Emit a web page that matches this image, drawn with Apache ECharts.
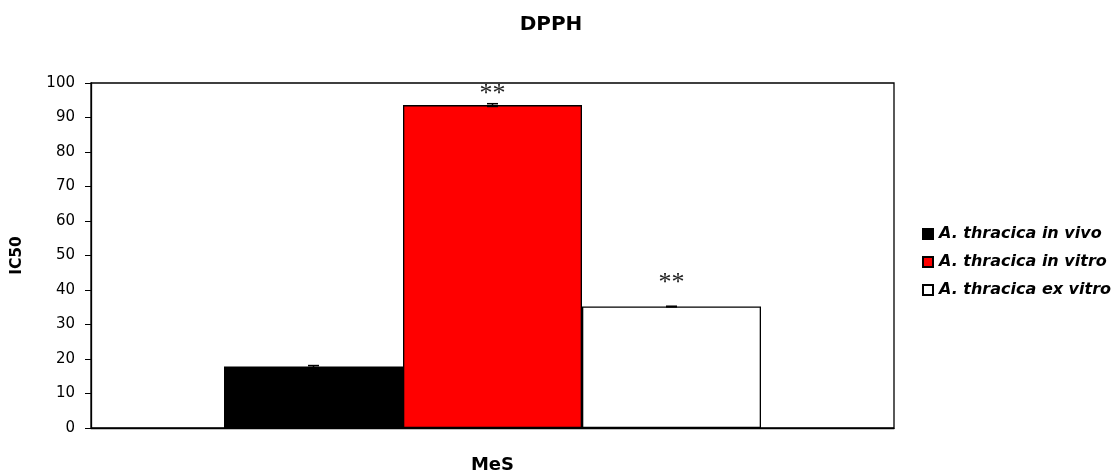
<!DOCTYPE html>
<html>
<head>
<meta charset="utf-8">
<script src="https://cdn.jsdelivr.net/npm/echarts@6/dist/echarts.min.js"></script>
<style>html,body{margin:0;padding:0;background:#fff}#c{width:1112px;height:474px}</style>
</head>
<body>
<div id="c"></div>
<script>
const categories = ['MeS'];
const seriesNames = ['A. thracica in vivo', 'A. thracica in vitro', 'A. thracica ex vitro'];
const seriesValues = [17.8, 93.6, 35.2];
const seriesErrors = [0.3, 0.4, 0.1];
const seriesColors = ['#000000', '#ff0000', '#ffffff'];
const significance = ['', '**', '**'];
const starDistance = [0, -2, 10];
const yTicks = { min: 0, max: 100, interval: 10 };

const BAR_W = 179;
const chart = echarts.init(document.getElementById('c'), null, { renderer: 'canvas' });
const TXT = 'DejaVu Sans';

const barSeries = seriesNames.map((name, i) => ({
  name: name,
  type: 'bar',
  barWidth: BAR_W,
  barGap: '0%',
  itemStyle: { color: seriesColors[i], borderColor: '#000', borderWidth: 1.3 },
  data: categories.map(() => ({
    value: seriesValues[i],
    label: {
      show: !!significance[i],
      position: 'top',
      distance: starDistance[i],
      formatter: significance[i],
      fontFamily: 'Liberation Serif',
      fontSize: 26,
      color: '#222'
    }
  }))
}));

const errData = seriesValues.map((v, i) => [0, v, seriesErrors[i], i]);

const errSeries = {
  type: 'custom',
  name: 'err',
  z: 5,
  data: errData,
  renderItem: function (params, api) {
    const idx = api.value(3);
    const v = api.value(1), e = api.value(2);
    const off = (idx - (seriesNames.length - 1) / 2) * BAR_W;
    const top = api.coord([api.value(0), v + e]);
    const bot = api.coord([api.value(0), v - e]);
    const x = top[0] + off;
    const hw = 5.5;
    const st = { stroke: '#000', lineWidth: 1.5 };
    return {
      type: 'group',
      children: [
        { type: 'line', shape: { x1: x, y1: top[1], x2: x, y2: bot[1] }, style: st },
        { type: 'line', shape: { x1: x - hw, y1: top[1], x2: x + hw, y2: top[1] }, style: st },
        { type: 'line', shape: { x1: x - hw, y1: bot[1], x2: x + hw, y2: bot[1] }, style: st }
      ]
    };
  }
};

chart.setOption({
  animation: false,
  backgroundColor: '#fff',
  title: {
    text: 'DPPH',
    left: 546,
    textAlign: 'center',
    top: 10,
    textStyle: { fontFamily: TXT, fontWeight: 'bold', fontSize: 20, color: '#000' }
  },
  legend: {
    data: seriesNames,
    orient: 'vertical',
    left: 917,
    top: 221,
    itemWidth: 10,
    itemHeight: 10,
    itemGap: 12,
    icon: 'rect',
    textStyle: { fontFamily: TXT, fontWeight: 'bold', fontStyle: 'italic', fontSize: 16, color: '#000', padding: [0, 0, 0, 1] }
  },
  grid: {
    left: 91, right: 218, top: 83, bottom: 46,
    show: true, borderColor: '#000', borderWidth: 1.3, backgroundColor: 'transparent'
  },
  xAxis: {
    type: 'category',
    data: categories,
    axisLine: { lineStyle: { color: '#000', width: 1.3 } },
    axisTick: { show: false },
    axisLabel: { margin: 28, fontFamily: TXT, fontWeight: 'bold', fontSize: 18, color: '#000' }
  },
  yAxis: {
    type: 'value',
    min: yTicks.min, max: yTicks.max, interval: yTicks.interval,
    name: 'IC50',
    nameLocation: 'middle',
    nameGap: 66,
    nameRotate: 90,
    nameTextStyle: { fontFamily: TXT, fontWeight: 'bold', fontSize: 15.5, color: '#000' },
    axisLine: { show: true, lineStyle: { color: '#000', width: 1.3 } },
    axisTick: { show: true, inside: false, length: 6, lineStyle: { color: '#000' } },
    axisLabel: { margin: 16, fontFamily: TXT, fontSize: 15, color: '#000' },
    splitLine: { show: false }
  },
  series: barSeries.concat([errSeries])
});
</script>
</body>
</html>
